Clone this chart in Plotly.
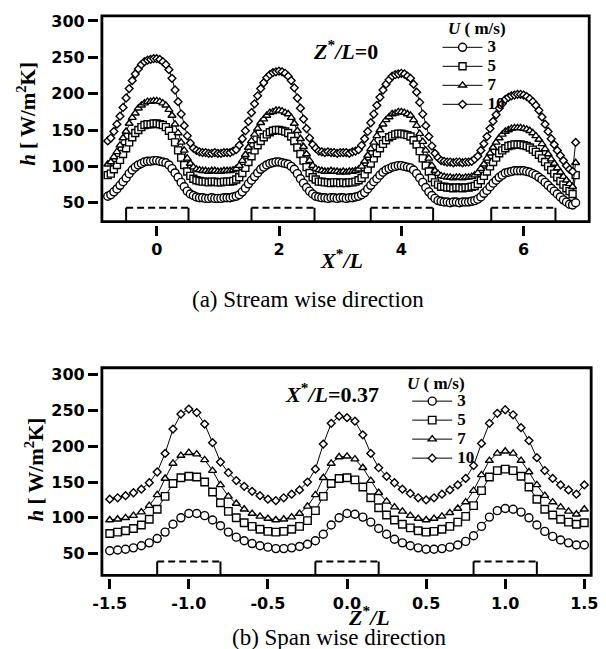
import plotly.graph_objects as go

# ---------------- (a) Stream-wise direction, Z*/L = 0 ----------------
xa = [-0.8, -0.75, -0.7, -0.65, -0.6, -0.55, -0.5, -0.45, -0.4, -0.35, -0.3, -0.25, -0.2, -0.15, -0.1, -0.05, 0.0,
      0.05, 0.1, 0.15, 0.2, 0.25, 0.3, 0.35, 0.4, 0.45, 0.5, 0.55, 0.6, 0.65, 0.7, 0.75, 0.8, 0.85, 0.9, 0.95, 1.0,
      1.05, 1.1, 1.15, 1.2, 1.25, 1.3, 1.35, 1.4, 1.45, 1.5, 1.55, 1.6, 1.65, 1.7, 1.75, 1.8, 1.85, 1.9, 1.95, 2.0,
      2.05, 2.1, 2.15, 2.2, 2.25, 2.3, 2.35, 2.4, 2.45, 2.5, 2.55, 2.6, 2.65, 2.7, 2.75, 2.8, 2.85, 2.9, 2.95, 3.0,
      3.05, 3.1, 3.15, 3.2, 3.25, 3.3, 3.35, 3.4, 3.45, 3.5, 3.55, 3.6, 3.65, 3.7, 3.75, 3.8, 3.85, 3.9, 3.95, 4.0,
      4.05, 4.1, 4.15, 4.2, 4.25, 4.3, 4.35, 4.4, 4.45, 4.5, 4.55, 4.6, 4.65, 4.7, 4.75, 4.8, 4.85, 4.9, 4.95, 5.0,
      5.05, 5.1, 5.15, 5.2, 5.25, 5.3, 5.35, 5.4, 5.45, 5.5, 5.55, 5.6, 5.65, 5.7, 5.75, 5.8, 5.85, 5.9,
      5.95, 6.0, 6.05, 6.1, 6.15, 6.2, 6.25, 6.3, 6.35, 6.4, 6.45, 6.5, 6.55, 6.6, 6.65, 6.7, 6.75, 6.8, 6.85]

ha_u3 = [59, 61, 65, 69, 74, 79, 84, 90, 95, 99, 102, 104, 106, 107, 107, 108, 108,
         107, 106, 105, 102, 97, 91, 85, 78, 72, 66, 62, 60, 58, 57, 57, 56, 56, 57, 56, 56,
         56, 57, 57, 57, 58, 59, 61, 65, 70, 76, 81, 86, 91, 96, 99, 102, 104, 105, 106, 106,
         105, 104, 103, 100, 96, 90, 83, 77, 71, 66, 62, 59, 58, 57, 57, 56, 57, 57, 56, 57,
         57, 56, 57, 57, 58, 59, 61, 64, 69, 74, 79, 83, 88, 92, 95, 97, 99, 100, 101, 101,
         100, 99, 98, 95, 90, 84, 78, 71, 65, 60, 56, 53, 52, 51, 51, 50, 51, 51, 50, 51,
         51, 51, 52, 53, 55, 58, 63, 67, 72, 77, 81, 85, 88, 91, 92, 93, 94, 94,
         94, 94, 93, 92, 90, 88, 85, 82, 78, 74, 70, 66, 62, 58, 54, 51, 48, 47, 50]

ha_u5 = [88, 90, 96, 102, 109, 117, 125, 133, 140, 146, 150, 154, 157, 158, 158, 159, 159,
         158, 157, 154, 149, 142, 133, 122, 112, 102, 93, 87, 83, 81, 80, 79, 79, 78, 79, 79, 78,
         78, 79, 79, 79, 80, 82, 85, 91, 98, 106, 114, 122, 129, 135, 140, 144, 147, 149, 150, 150,
         149, 148, 146, 141, 135, 126, 117, 108, 99, 91, 85, 82, 79, 79, 78, 78, 77, 78, 78, 77,
         78, 77, 78, 78, 79, 81, 84, 89, 96, 104, 111, 118, 125, 131, 136, 140, 142, 144, 145, 145,
         144, 143, 141, 136, 130, 121, 111, 101, 93, 84, 78, 75, 72, 72, 71, 71, 70, 71, 71, 70,
         71, 71, 72, 73, 76, 81, 87, 93, 100, 106, 112, 118, 122, 125, 128, 129, 130, 130,
         130, 129, 128, 126, 123, 120, 116, 111, 106, 100, 95, 90, 85, 80, 75, 70, 66, 62, 88]

ha_u7 = [103, 106, 113, 120, 129, 139, 148, 159, 167, 173, 180, 184, 187, 189, 189, 190, 190,
         189, 187, 184, 178, 170, 158, 146, 133, 122, 111, 104, 99, 96, 95, 94, 94, 93, 94, 94, 93,
         93, 94, 94, 94, 95, 97, 101, 108, 116, 126, 135, 144, 152, 160, 165, 170, 174, 175, 177, 177,
         176, 174, 172, 167, 159, 149, 138, 127, 117, 108, 101, 97, 95, 94, 93, 93, 94, 93, 93, 92,
         93, 92, 93, 93, 94, 96, 100, 107, 115, 124, 133, 142, 150, 158, 164, 168, 172, 173, 175, 175,
         174, 172, 170, 164, 156, 145, 134, 122, 111, 101, 94, 90, 87, 86, 85, 85, 84, 85, 85, 84,
         85, 85, 86, 88, 91, 97, 103, 111, 118, 126, 133, 139, 144, 148, 150, 152, 153, 153,
         153, 152, 151, 149, 146, 142, 137, 131, 124, 117, 110, 104, 98, 92, 86, 81, 76, 72, 105]

ha_u10 = [135, 139, 148, 158, 169, 181, 194, 207, 218, 227, 234, 240, 244, 246, 247, 248, 248,
          247, 244, 240, 233, 221, 205, 189, 172, 156, 142, 132, 125, 122, 120, 119, 119, 118, 118, 119, 118,
          118, 119, 119, 119, 121, 123, 129, 138, 149, 162, 174, 186, 197, 207, 215, 222, 226, 229, 230, 231,
          230, 228, 224, 218, 208, 194, 180, 165, 152, 139, 130, 125, 121, 120, 119, 120, 119, 119, 118, 119,
          119, 119, 118, 120, 121, 123, 129, 138, 148, 160, 172, 184, 195, 205, 213, 219, 224, 226, 227, 228,
          227, 224, 221, 213, 202, 188, 172, 156, 141, 128, 118, 112, 108, 107, 106, 106, 105, 106, 106, 105,
          106, 106, 107, 110, 114, 122, 131, 141, 152, 162, 171, 180, 186, 192, 195, 197, 198, 199,
          199, 198, 196, 193, 189, 184, 177, 168, 158, 148, 138, 130, 122, 115, 108, 101, 96, 93, 133]

heater_a_start = [-0.5, 1.55, 3.5, 5.47]
heater_a_end = [0.52, 2.58, 4.52, 6.52]
heater_a_top = 43

# ---------------- (b) Span-wise direction, X*/L = 0.37 ----------------
xb = [-1.5, -1.45, -1.4, -1.35, -1.3, -1.25, -1.2, -1.15, -1.1, -1.05,
      -1.0, -0.95, -0.9, -0.85, -0.8, -0.75, -0.7, -0.65, -0.6, -0.55,
      -0.5, -0.45, -0.4, -0.35, -0.3, -0.25, -0.2, -0.15, -0.1, -0.05,
      0.0, 0.05, 0.1, 0.15, 0.2, 0.25, 0.3, 0.35, 0.4, 0.45,
      0.5, 0.55, 0.6, 0.65, 0.7, 0.75, 0.8, 0.85, 0.9, 0.95,
      1.0, 1.05, 1.1, 1.15, 1.2, 1.25, 1.3, 1.35, 1.4, 1.45, 1.5]

hb_u3 = [54, 55, 56, 58, 61, 65, 71, 80, 91, 100,
         106, 106, 103, 97, 89, 80, 73, 68, 64, 61,
         59, 57, 57, 58, 60, 63, 68, 77, 90, 100,
         106, 105, 101, 94, 85, 77, 70, 65, 61, 58,
         56, 56, 57, 59, 62, 67, 75, 88, 101, 110,
         113, 112, 108, 100, 90, 81, 74, 69, 65, 62, 62]

hb_u5 = [78, 80, 82, 85, 90, 98, 112, 130, 148, 156,
         158, 157, 150, 136, 121, 109, 100, 93, 88, 84,
         81, 80, 81, 84, 88, 96, 110, 130, 148, 155,
         156, 153, 143, 128, 114, 104, 97, 91, 86, 82,
         80, 81, 84, 88, 94, 102, 117, 138, 157, 166,
         168, 166, 158, 143, 126, 112, 104, 98, 94, 91, 93]

hb_u7 = [97, 98, 100, 103, 108, 117, 132, 155, 176, 187,
         191, 189, 181, 166, 146, 130, 120, 112, 106, 102,
         99, 97, 98, 101, 106, 116, 132, 156, 176, 185,
         186, 182, 170, 152, 135, 123, 115, 109, 103, 99,
         97, 99, 102, 107, 113, 122, 138, 160, 180, 190,
         193, 190, 180, 164, 146, 131, 122, 115, 109, 105, 112]

hb_u10 = [126, 128, 131, 135, 140, 149, 164, 190, 224, 245,
          252, 247, 231, 205, 178, 163, 152, 144, 137, 131,
          126, 124, 128, 133, 139, 150, 168, 203, 232, 242,
          240, 235, 216, 190, 170, 158, 149, 140, 134, 128,
          125, 128, 133, 139, 146, 155, 173, 204, 232, 246,
          251, 244, 226, 208, 184, 166, 155, 146, 139, 133, 146]

heater_b_start = [-1.2, -0.2, 0.8]
heater_b_end = [-0.8, 0.2, 1.2]
heater_b_top = 39

speeds = ["3", "5", "7", "10"]
y_ticks = [50, 100, 150, 200, 250, 300]
xa_ticks = [0, 2, 4, 6]
xb_ticks = [-1.5, -1.0, -0.5, 0.0, 0.5, 1.0, 1.5]
xb_ticktext = ["-1.5", "-1.0", "-0.5", "0.0", "0.5", "1.0", "1.5"]

# ---------------- layout helpers (pixels -> paper) ----------------
W, H = 606, 649


def px(x):
    return x / W


def py(y):
    return 1 - y / H


# plot areas (pixels): left, right, top, bottom
A = (95, 596, 12, 222)
B = (95, 598, 366, 578)
INSET = 3  # frame is drawn inset from tick origin

# axis ranges derived from tick pixel positions
xa_range = [(A[0] - 154) / 62.5, (A[1] - 154) / 62.5]
ya_range = [50 - (A[3] - 200) / 0.732, 300 + (17 - A[2]) / 0.732]
xb_range = [(B[0] - 348.5) / 161.67, (B[1] - 348.5) / 161.67]
yb_range = [50 - (B[3] - 553) / 0.72, 300 + (373 - B[2]) / 0.72]

symbols = ["circle", "square", "triangle-up", "diamond"]
sizes_a = [8, 7, 7, 6]
sizes_b = [8, 7.5, 7, 6]

fig = go.Figure()

series_a = [ha_u3, ha_u5, ha_u7, ha_u10]
series_b = [hb_u3, hb_u5, hb_u7, hb_u10]

for i, ys in enumerate(series_a):
    fig.add_trace(go.Scatter(
        x=xa, y=ys, mode="lines+markers", xaxis="x", yaxis="y",
        name='<span style="font-size:17px">%s</span>' % speeds[i], legend="legend",
        line=dict(color="black", width=1),
        marker=dict(symbol=symbols[i], size=sizes_a[i], color="white",
                    line=dict(color="black", width=1.4)),
    ))

for i, ys in enumerate(series_b):
    fig.add_trace(go.Scatter(
        x=xb, y=ys, mode="lines+markers", xaxis="x2", yaxis="y2",
        name='<span style="font-size:17px">%s</span>' % speeds[i], legend="legend2",
        line=dict(color="black", width=1),
        marker=dict(symbol=symbols[i], size=sizes_b[i], color="white",
                    line=dict(color="black", width=1.4)),
    ))

tickfont = dict(family="DejaVu Sans", size=16, color="black", weight="bold")
axis_common = dict(showgrid=False, zeroline=False, showline=False, ticks="outside",
                   ticklen=10, tickwidth=2.5, tickcolor="black", tickfont=tickfont)

shapes = []
# frames
for (l, r, t, b) in (A, B):
    shapes.append(dict(type="rect", xref="paper", yref="paper",
                       x0=px(l + INSET), x1=px(r), y0=py(b - INSET), y1=py(t),
                       line=dict(color="black", width=2.8), fillcolor="rgba(0,0,0,0)", layer="above"))

# heaters (a)
ya_frame = ya_range[0] + INSET / 0.732
for s, e in zip(heater_a_start, heater_a_end):
    for xx in (s, e):
        shapes.append(dict(type="line", xref="x", yref="y", x0=xx, x1=xx, y0=ya_frame, y1=heater_a_top,
                           line=dict(color="black", width=2)))
    shapes.append(dict(type="line", xref="x", yref="y", x0=s, x1=e, y0=heater_a_top, y1=heater_a_top,
                       line=dict(color="black", width=2, dash="7px,4px")))
# heaters (b)
yb_frame = yb_range[0] + INSET / 0.72
for s, e in zip(heater_b_start, heater_b_end):
    for xx in (s, e):
        shapes.append(dict(type="line", xref="x2", yref="y2", x0=xx, x1=xx, y0=yb_frame, y1=heater_b_top,
                           line=dict(color="black", width=2)))
    shapes.append(dict(type="line", xref="x2", yref="y2", x0=s, x1=e, y0=heater_b_top, y1=heater_b_top,
                       line=dict(color="black", width=2, dash="7px,4px")))

serif = "Liberation Serif"


def ann(text, x, y, size, bold=False, angle=0, xanchor="center"):
    return dict(text=text, x=px(x), y=py(y), xref="paper", yref="paper", showarrow=False,
                xanchor=xanchor, yanchor="middle", textangle=angle,
                font=dict(family=serif, size=size, color="black", weight="bold" if bold else "normal"))


annotations = [
    ann("<i>h</i> [ W/m<sup>2</sup>K]", 21, 111, 21, bold=True, angle=-90),
    ann("<i>h</i> [ W/m<sup>2</sup>K]", 29, 468, 21, bold=True, angle=-90),
    ann("<i>Z</i><sup>*</sup><i>/L</i>=0", 347, 46, 22, bold=True),
    ann("<i>X</i><sup>*</sup><i>/L</i>=0.37", 333, 391, 22, bold=True),
    ann("<i>X</i><sup>*</sup><i>/L</i>", 343, 257, 22, bold=True),
    ann("<i>Z</i><sup>*</sup><i>/L</i>", 371, 616, 22, bold=True),
    ann("(a) Stream wise direction", 309, 297, 23),
    ann("(b) Span wise direction", 340, 637, 23),
    # legend titles
    ann("<i>U</i> ( m/s)", 450, 25, 17, bold=True, xanchor="left"),
    ann("<i>U</i> ( m/s)", 408, 382, 17, bold=True, xanchor="left"),
]

legend_common = dict(xanchor="left", yanchor="top", bgcolor="rgba(0,0,0,0)", borderwidth=0,
                     itemwidth=40, tracegroupgap=0,
                     font=dict(family=serif, size=12, color="black", weight="bold"))

fig.update_layout(
    width=W, height=H, autosize=False,
    margin=dict(l=0, r=0, t=0, b=0),
    paper_bgcolor="white", plot_bgcolor="white",
    showlegend=True,
    xaxis=dict(domain=[px(A[0]), px(A[1])], range=xa_range, anchor="y",
               tickvals=xa_ticks, ticklabelstandoff=0, **axis_common),
    yaxis=dict(domain=[py(A[3]), py(A[2])], range=ya_range, anchor="x",
               tickvals=y_ticks, **axis_common),
    xaxis2=dict(domain=[px(B[0]), px(B[1])], range=xb_range, anchor="y2",
                tickvals=xb_ticks, ticktext=xb_ticktext, ticklabelstandoff=0, **axis_common),
    yaxis2=dict(domain=[py(B[3]), py(B[2])], range=yb_range, anchor="x2",
                tickvals=y_ticks, **axis_common),
    legend=dict(x=px(441), y=py(29), **legend_common),
    legend2=dict(x=px(410), y=py(385), **legend_common),
    shapes=shapes,
    annotations=annotations,
)

fig.write_html("out.html")
